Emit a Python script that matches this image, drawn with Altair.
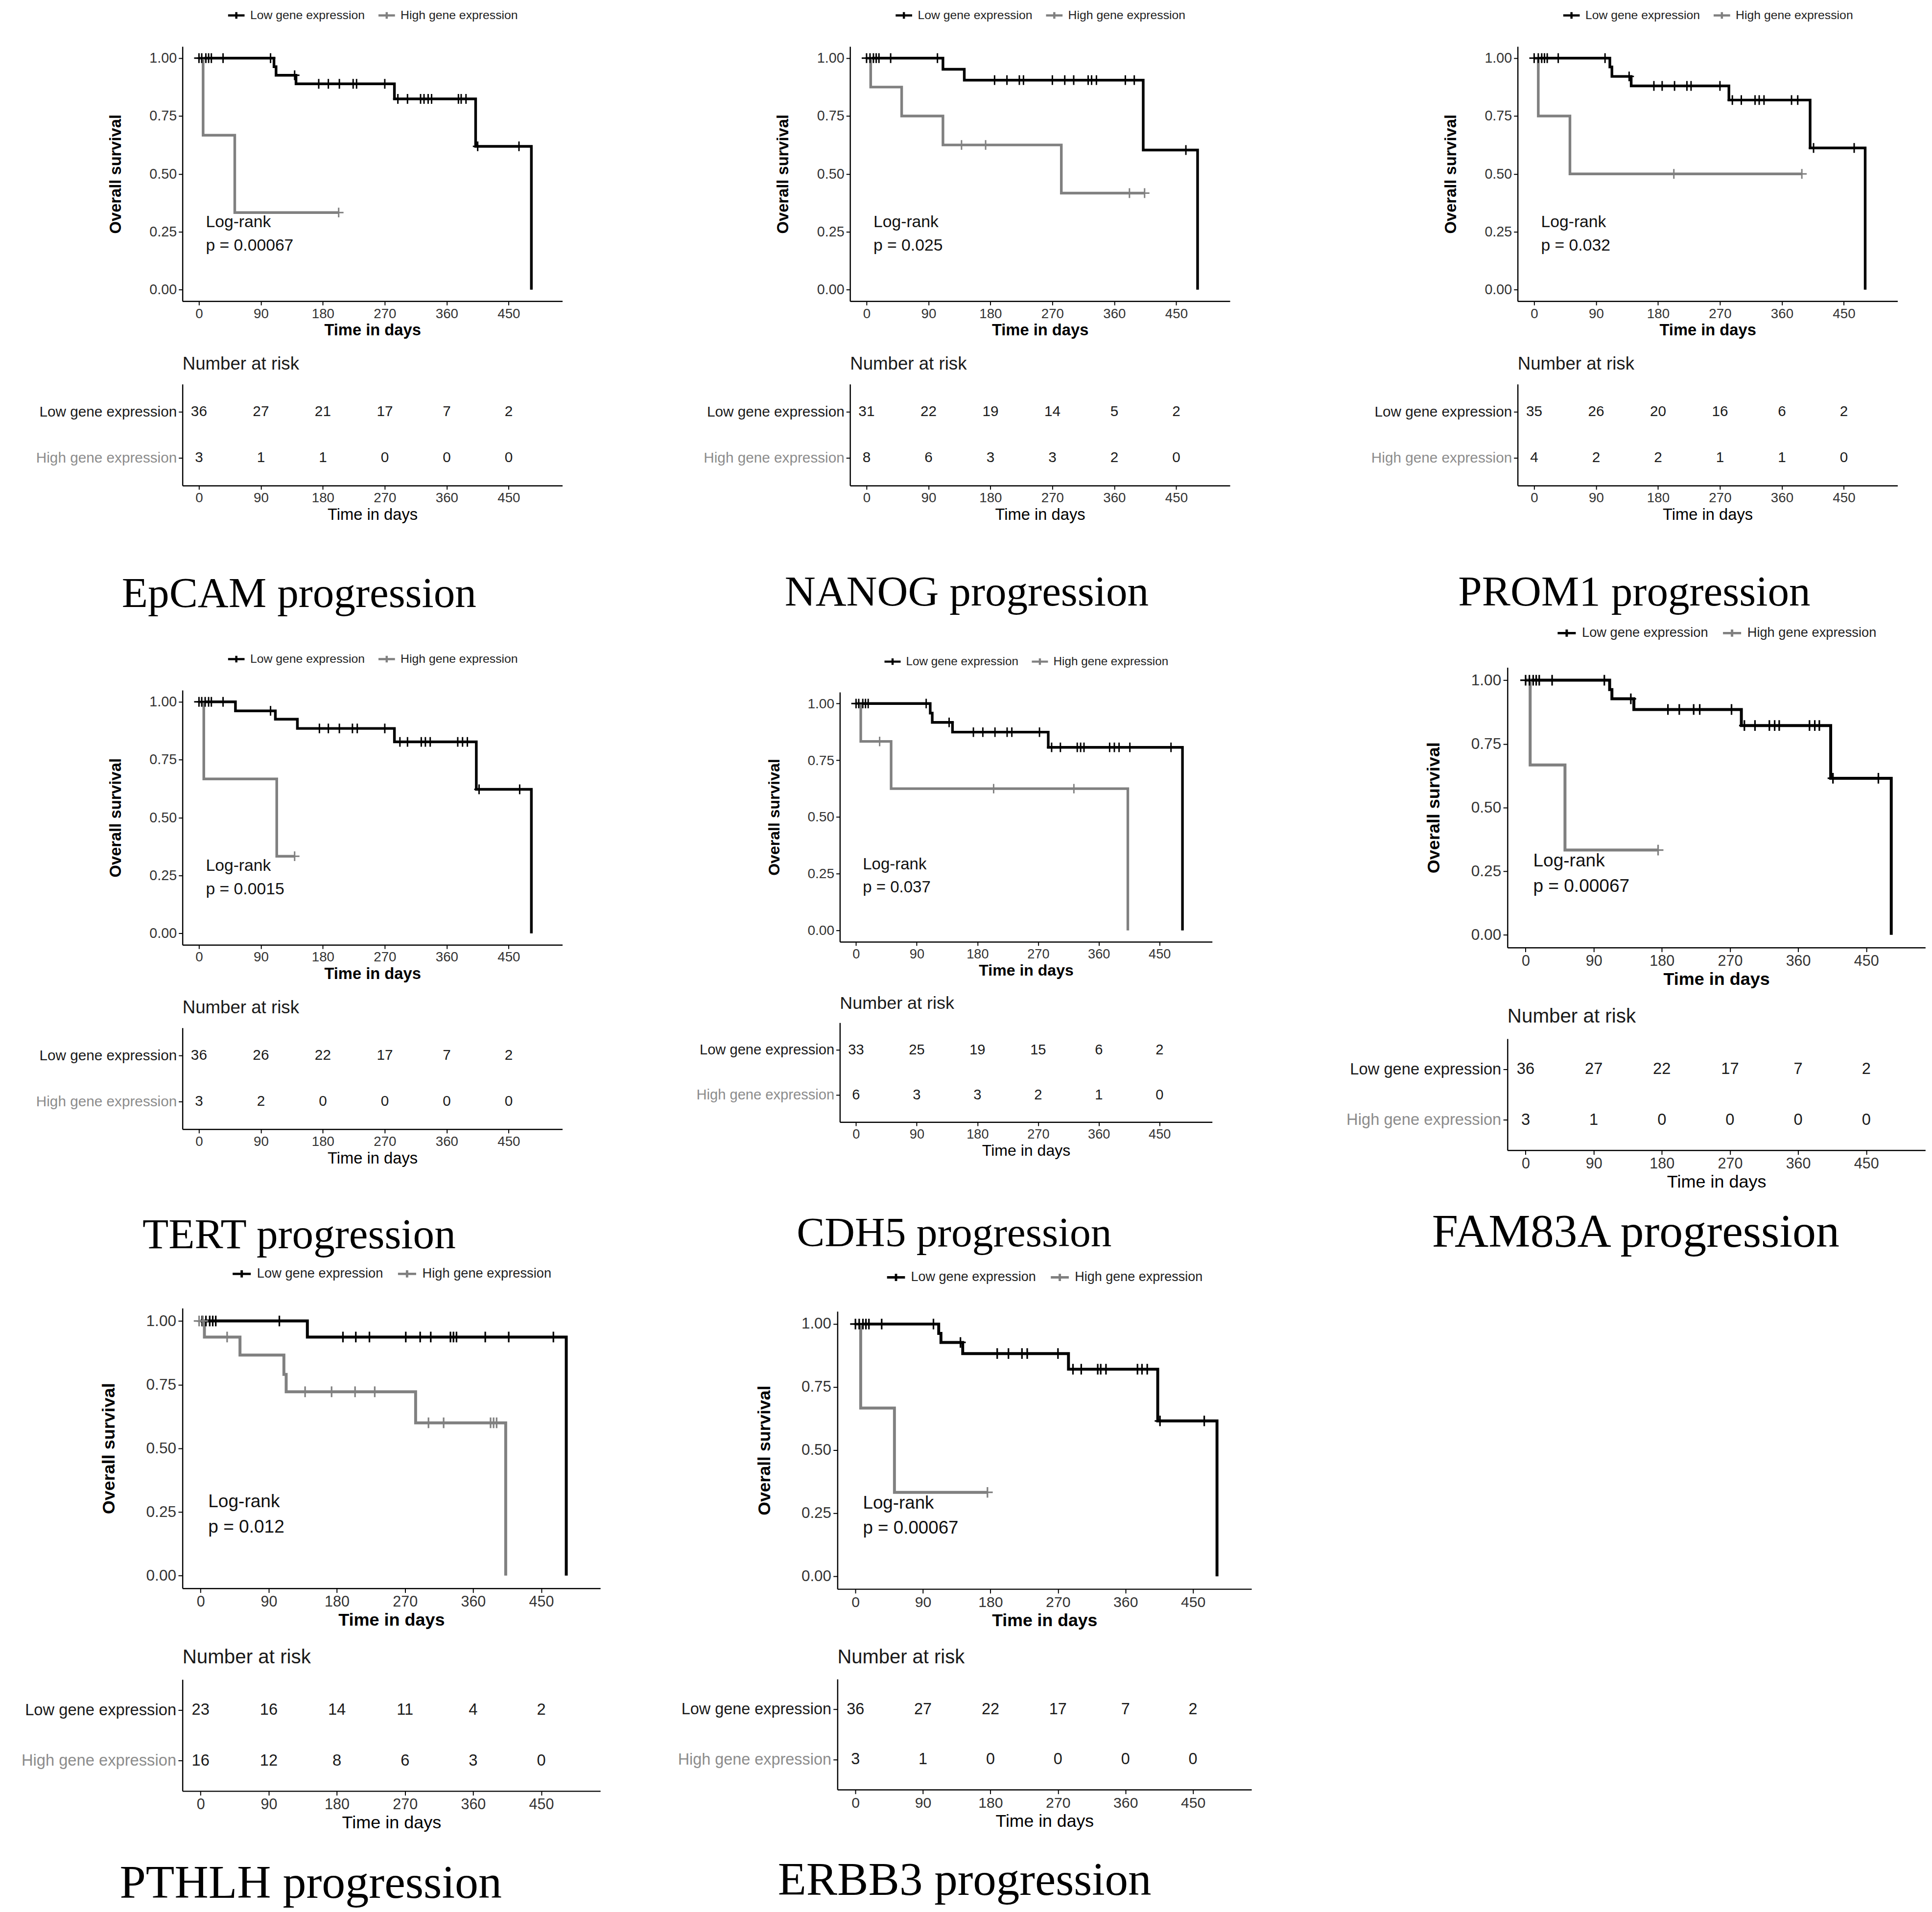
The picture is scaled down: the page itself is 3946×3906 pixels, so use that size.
import altair as alt
import pandas as pd

LOW = "Low gene expression"
HIGH = "High gene expression"

GENES = ["EpCAM", "NANOG", "PROM1", "TERT", "CDH5", "FAM83A", "PTHLH", "ERBB3"]
PVALUES = ["0.00067", "0.025", "0.032", "0.0015", "0.037", "0.00067", "0.012", "0.00067"]

RISK_TIMES = [0, 90, 180, 270, 360, 450]
RISK_LOW = {
    "EpCAM": [36, 27, 21, 17, 7, 2], "NANOG": [31, 22, 19, 14, 5, 2],
    "PROM1": [35, 26, 20, 16, 6, 2], "TERT": [36, 26, 22, 17, 7, 2],
    "CDH5": [33, 25, 19, 15, 6, 2], "FAM83A": [36, 27, 22, 17, 7, 2],
    "PTHLH": [23, 16, 14, 11, 4, 2], "ERBB3": [36, 27, 22, 17, 7, 2],
}
RISK_HIGH = {
    "EpCAM": [3, 1, 1, 0, 0, 0], "NANOG": [8, 6, 3, 3, 2, 0],
    "PROM1": [4, 2, 2, 1, 1, 0], "TERT": [3, 2, 0, 0, 0, 0],
    "CDH5": [6, 3, 3, 2, 1, 0], "FAM83A": [3, 1, 0, 0, 0, 0],
    "PTHLH": [16, 12, 8, 6, 3, 0], "ERBB3": [3, 1, 0, 0, 0, 0],
}

# Kaplan-Meier step points (time, survival) and censoring times
LOW_T = {
    "EpCAM": [0, 109, 112, 141, 284, 402, 483],
    "NANOG": [0, 111, 142, 402, 481],
    "PROM1": [0, 110, 113, 141, 283, 401, 481],
    "TERT": [0, 53, 111, 143, 284, 403, 483],
    "CDH5": [0, 110, 113, 143, 285, 484],
    "FAM83A": [0, 111, 114, 143, 285, 403, 483],
    "PTHLH": [0, 141, 483],
    "ERBB3": [0, 111, 114, 143, 284, 403, 482],
}
LOW_S = {
    "EpCAM": [1, 0.963, 0.926, 0.889, 0.824, 0.619, 0],
    "NANOG": [1, 0.952, 0.905, 0.603, 0],
    "PROM1": [1, 0.962, 0.921, 0.88, 0.819, 0.612, 0],
    "TERT": [1, 0.961, 0.925, 0.885, 0.827, 0.622, 0],
    "CDH5": [1, 0.958, 0.917, 0.874, 0.807, 0],
    "FAM83A": [1, 0.963, 0.927, 0.885, 0.822, 0.615, 0],
    "PTHLH": [1, 0.937, 0],
    "ERBB3": [1, 0.963, 0.927, 0.883, 0.821, 0.616, 0],
}
LOW_C = {
    "EpCAM": [0, 4, 10, 14, 18, 35, 104, 139, 174, 188, 204, 224, 229, 270,
              289, 303, 322, 327, 333, 338, 377, 381, 388, 405, 465],
    "NANOG": [0, 5, 10, 14, 18, 35, 103, 186, 204, 222, 228, 270, 288, 301, 322, 327,
              334, 376, 389, 464],
    "PROM1": [0, 6, 11, 15, 19, 35, 103, 138, 174, 186, 204, 222, 228, 270, 288,
              301, 321, 327, 334, 374, 383, 406, 465],
    "TERT": [0, 4, 9, 14, 18, 35, 104, 175, 188, 204, 223, 230, 270, 292, 303,
             323, 329, 336, 376, 383, 390, 407, 466],
    "CDH5": [0, 4, 10, 14, 18, 104, 138, 174, 188, 206, 224, 231, 272, 290, 303, 328,
             333, 338, 376, 383, 390, 406, 467],
    "FAM83A": [0, 5, 10, 14, 18, 35, 104, 139, 188, 203, 222, 230, 272, 289, 303,
               322, 329, 335, 375, 382, 388, 406, 466],
    "PTHLH": [2, 7, 12, 16, 20, 104, 188, 205, 223, 271, 290, 304, 330, 334, 338, 376,
              407, 466],
    "ERBB3": [0, 5, 10, 14, 18, 35, 104, 140, 189, 204, 222, 229, 270, 290, 301,
              323, 327, 334, 376, 382, 389, 406, 465],
}
HIGH_T = {
    "EpCAM": [0, 6, 52, 203],
    "NANOG": [0, 6, 51, 111, 283, 404],
    "PROM1": [0, 6, 52, 389],
    "TERT": [0, 7, 113, 139],
    "CDH5": [0, 7, 52, 403],
    "FAM83A": [0, 6, 52, 175],
    "PTHLH": [0, 5, 52, 110, 113, 284, 403],
    "ERBB3": [0, 7, 52, 176],
}
HIGH_S = {
    "EpCAM": [1, 0.667, 0.333, 0.333],
    "NANOG": [1, 0.875, 0.75, 0.625, 0.417, 0.417],
    "PROM1": [1, 0.75, 0.5, 0.5],
    "TERT": [1, 0.667, 0.333, 0.333],
    "CDH5": [1, 0.833, 0.625, 0],
    "FAM83A": [1, 0.667, 0.333, 0.333],
    "PTHLH": [1, 0.937, 0.866, 0.79, 0.722, 0.6, 0],
    "ERBB3": [1, 0.667, 0.333, 0.333],
}
HIGH_C = {
    "EpCAM": [203],
    "NANOG": [138, 173, 382, 404],
    "PROM1": [203, 389],
    "TERT": [139],
    "CDH5": [35, 204, 323],
    "FAM83A": [175],
    "PTHLH": [-2, 3, 35, 138, 173, 204, 230, 301, 321, 383, 387, 391],
    "ERBB3": [176],
}

# layout / style per panel: scale factor, caption offset, blank space below caption
SCALES = [1.0, 1.0, 1.0, 1.0, 0.98, 1.1, 1.1, 1.09]
CAPTION_OFFSET = [103, 100, 100, 98, 113, 39, 60, 58]
CAPTION_GAP = [48, 48, 48, 0, 0, 48, 0, 0]
ROW_SPACING = -34

SANS = "Liberation Sans"
SERIF = "Liberation Serif"
XDOM = [-24, 528]
YDOM = [-0.05, 1.05]
PLUS = "M-1,0H1M0,-1V1"
LEG_SYMBOL = "M-1,0H1M0,-0.4V0.4"
PVAL_X = 10
PVAL_Y = [0.29, 0.19]
COLORS = ["#000000", "#808080"]


def surv_at(T, S, t):
    v = S[0]
    for ti, si in zip(T, S):
        if ti <= t:
            v = si
        else:
            break
    return v


def km_chart(g, p, s):
    W, H = 783 * s, 525 * s
    curve_rows, cens_rows = [], []
    for grp, T, S, C in [(LOW, LOW_T[g], LOW_S[g], LOW_C[g]),
                         (HIGH, HIGH_T[g], HIGH_S[g], HIGH_C[g])]:
        for t, v in zip(T, S):
            curve_rows.append({"time": t, "surv": v, "group": grp})
        for c in C:
            cens_rows.append({"time": c, "surv": surv_at(T, S, c), "group": grp})
    curve_df = pd.DataFrame(curve_rows)
    cens_df = pd.DataFrame(cens_rows)

    x = alt.X("time:Q", scale=alt.Scale(domain=XDOM, nice=False, zero=False),
              axis=alt.Axis(values=RISK_TIMES, title="Time in days", labelFontSize=28 * s,
                            titleFontSize=33 * s, titleFontWeight="bold", tickSize=8 * s,
                            labelPadding=4 * s, titlePadding=4 * s))
    y = alt.Y("surv:Q", scale=alt.Scale(domain=YDOM, nice=False, zero=False),
              axis=alt.Axis(values=[0, 0.25, 0.5, 0.75, 1], format=".2f",
                            title="Overall survival", labelFontSize=29 * s,
                            titleFontSize=33 * s, titleFontWeight="bold", tickSize=8 * s,
                            labelPadding=4 * s, titlePadding=52 * s))
    leg_w = 600 * s
    color_leg = alt.Color(
        "group:N", scale=alt.Scale(domain=[LOW, HIGH], range=COLORS),
        legend=alt.Legend(title=None, orient="none", direction="horizontal",
                          legendX=(W - leg_w) / 2, legendY=-84 * s,
                          symbolType=LEG_SYMBOL, symbolSize=(34 * s) ** 2,
                          symbolStrokeWidth=4.5 * s, labelFontSize=25 * s,
                          labelColor="#222222", columnPadding=18 * s, labelOffset=9 * s,
                          labelLimit=600))
    color_nolegend = alt.Color("group:N", scale=alt.Scale(domain=[LOW, HIGH], range=COLORS),
                               legend=None)

    lines = alt.Chart(curve_df).mark_line(interpolate="step-after", strokeWidth=5.5 * s).encode(
        x=x, y=y, color=color_leg)
    cens = alt.Chart(cens_df).mark_point(shape=PLUS, size=(20 * s) ** 2, filled=False,
                                         strokeWidth=3 * s, opacity=1).encode(
        x="time:Q", y="surv:Q", color=color_nolegend)
    ann_df = pd.DataFrame({"time": [PVAL_X, PVAL_X], "surv": PVAL_Y,
                           "label": ["Log-rank", f"p = {p}"]})
    ann = alt.Chart(ann_df).mark_text(align="left", baseline="middle", fontSize=34 * s,
                                      font=SANS, color="#111111").encode(
        x="time:Q", y="surv:Q", text="label:N")
    return alt.layer(lines, cens, ann).properties(width=W, height=H)


def risk_chart(g, s):
    W, RH = 783 * s, 209 * s
    rows = []
    for t, n in zip(RISK_TIMES, RISK_LOW[g]):
        rows.append({"time": t, "group": LOW, "n": n})
    for t, n in zip(RISK_TIMES, RISK_HIGH[g]):
        rows.append({"time": t, "group": HIGH, "n": n})
    df = pd.DataFrame(rows)
    return alt.Chart(df).mark_text(fontSize=30 * s, font=SANS, color="#1a1a1a",
                                   baseline="middle").encode(
        x=alt.X("time:Q", scale=alt.Scale(domain=XDOM, nice=False, zero=False),
                axis=alt.Axis(values=RISK_TIMES, title="Time in days", labelFontSize=28 * s,
                              titleFontSize=33 * s, titleFontWeight="normal", tickSize=8 * s,
                              labelPadding=4 * s, titlePadding=4 * s)),
        y=alt.Y("group:N", sort=[LOW, HIGH],
                scale=alt.Scale(type="point", domain=[LOW, HIGH], padding=0.6),
                axis=alt.Axis(title=None, labelFontSize=30 * s, tickSize=8 * s,
                              labelPadding=4 * s, labelLimit=800,
                              labelColor=alt.condition(f"datum.value == '{HIGH}'",
                                                       alt.value("#8c8c8c"),
                                                       alt.value("#1a1a1a")))),
        text="n:Q",
    ).properties(width=W, height=RH,
                 title=alt.TitleParams("Number at risk", anchor="start", frame="group",
                                       font=SANS, fontSize=37 * s, fontWeight="normal",
                                       color="#1a1a1a", offset=22 * s))


def panel(i):
    g, p, s = GENES[i], PVALUES[i], SCALES[i]
    caption = f"{g} progression"
    if CAPTION_GAP[i] > 0:
        title = alt.TitleParams([caption, " "], orient="bottom", anchor="middle",
                                font=SERIF, fontSize=88 * s, fontWeight="normal",
                                color="#000000", offset=CAPTION_OFFSET[i],
                                lineHeight=CAPTION_GAP[i])
    else:
        title = alt.TitleParams(caption, orient="bottom", anchor="middle",
                                font=SERIF, fontSize=88 * s, fontWeight="normal",
                                color="#000000", offset=CAPTION_OFFSET[i])
    return alt.vconcat(
        km_chart(g, p, s), risk_chart(g, s), spacing=34 * s, title=title,
    ).resolve_scale(x="independent", y="independent", color="independent")


row1 = alt.hconcat(panel(0), panel(1), panel(2), spacing=290).resolve_scale(
    x="independent", y="independent", color="independent")
row2 = alt.hconcat(panel(3), panel(4), panel(5), spacing=275, center=True).resolve_scale(
    x="independent", y="independent", color="independent")
row3 = alt.hconcat(panel(6), panel(7), spacing=158, center=True).resolve_scale(
    x="independent", y="independent", color="independent")

chart = alt.vconcat(row1, row2, row3, spacing=ROW_SPACING).resolve_scale(
    x="independent", y="independent", color="independent"
).properties(
    padding={"left": 35, "top": -14, "right": 5, "bottom": 5},
    background="white",
).configure_view(stroke=None).configure_axis(
    grid=False, domainColor="#000000", tickColor="#000000", domainWidth=2.5, tickWidth=2,
    labelFont=SANS, titleFont=SANS, labelColor="#333333", titleColor="#000000",
).configure_legend(labelFont=SANS)

chart.save("out.html", embed_options={"renderer": "svg", "actions": False})
